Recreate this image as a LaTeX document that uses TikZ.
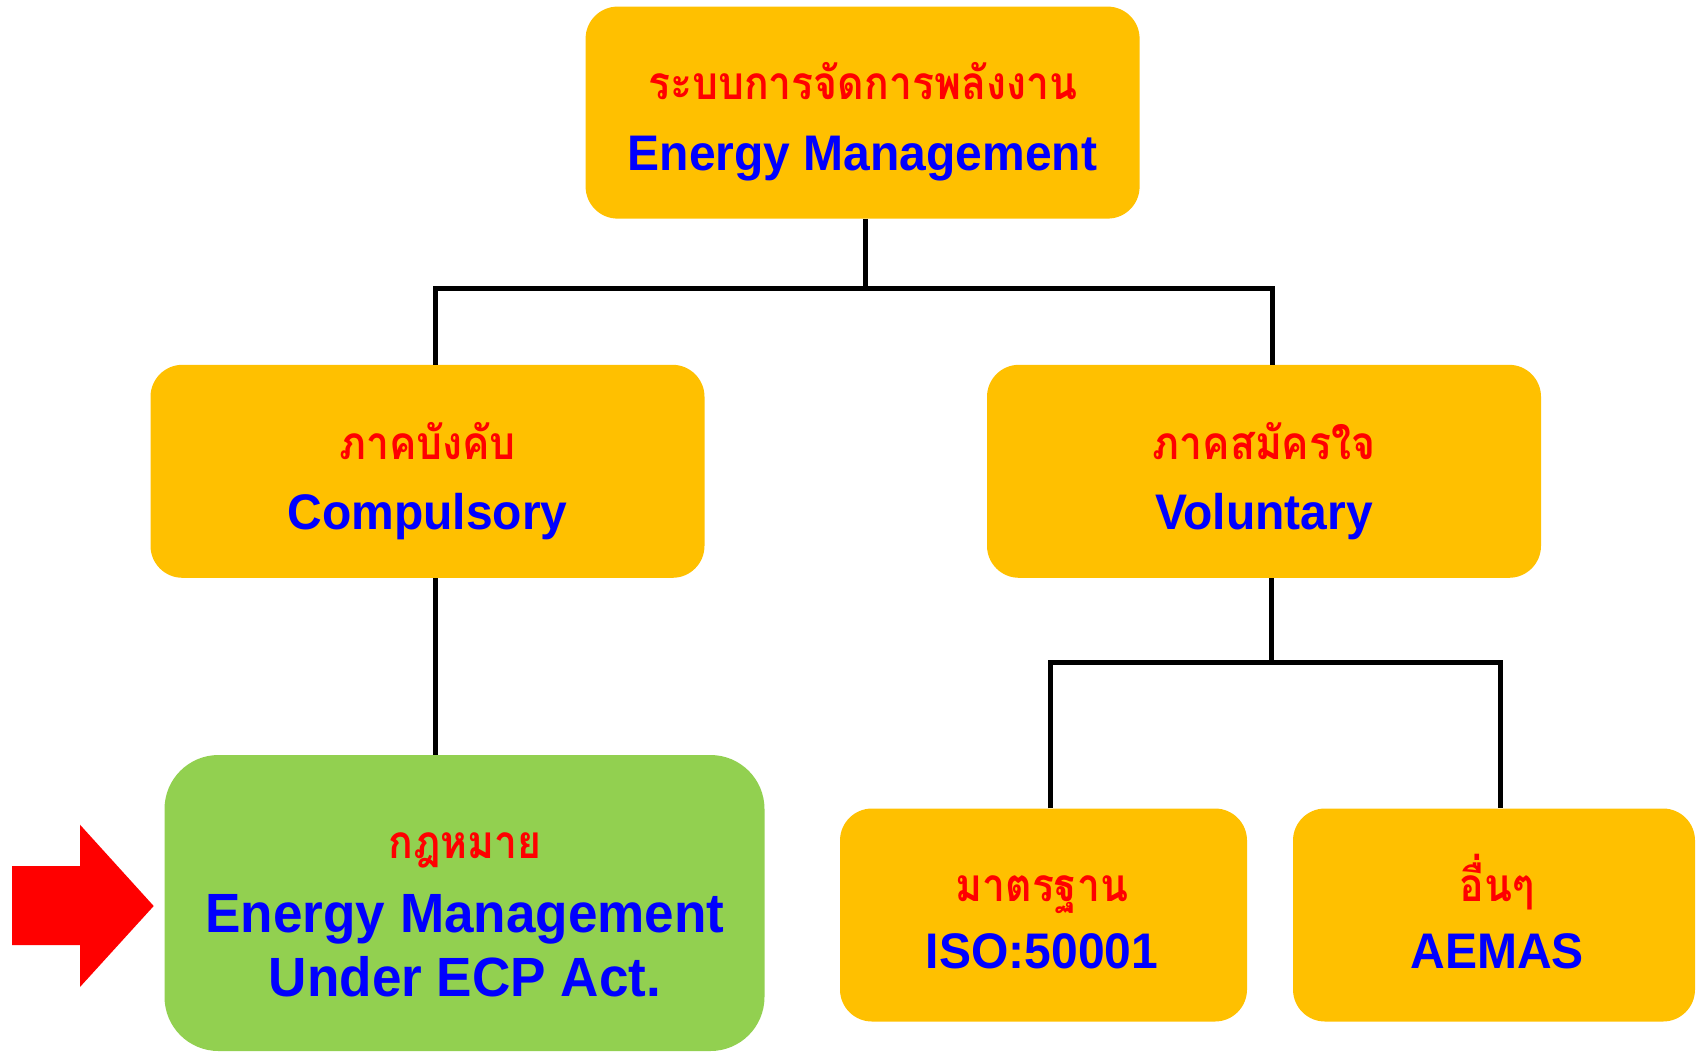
\documentclass[tikz,border=0pt]{standalone}
\usepackage{fontspec}
\newfontfamily\enfont[FakeStretch=0.96]{Liberation Sans}
\newfontfamily\thaifont[Script=Thai, FakeStretch=0.89]{Loma}
\usetikzlibrary{positioning}
\definecolor{boxorange}{HTML}{FFC000}
\definecolor{boxgreen}{HTML}{92D050}
\definecolor{thred}{HTML}{FF0000}
\definecolor{enblue}{HTML}{0000FF}
\tikzset{
  box/.style={rectangle, rounded corners=32pt, fill=boxorange, draw=none, inner sep=0pt},
  lawbox/.style={box, fill=boxgreen, rounded corners=54pt},
  thlabel/.style={text=thred, font=\thaifont\bfseries\fontsize{46}{52}\selectfont, inner sep=0pt, anchor=base},
  enlabel/.style={text=enblue, font=\enfont\bfseries\fontsize{50}{58}\selectfont, inner sep=0pt, anchor=base},
  enbig/.style={enlabel, font=\enfont\bfseries\fontsize{55.3}{62}\selectfont},
  conn/.style={draw=black, line width=5pt},
  bigarrow/.style={fill=thred, draw=none}
}
\begin{document}
\begin{tikzpicture}[x=1pt, y=-1pt]
\useasboundingbox (0,0) rectangle (1697,1053);

% boxes
\node[box, minimum width=554pt, minimum height=212pt] (top) at (862.6,112.6) {};
\node[box, minimum width=554pt, minimum height=213pt] (comp) at (427.5,471.3) {};
\node[box, minimum width=554pt, minimum height=213pt] (vol) at (1264,471.3) {};
\node[lawbox, minimum width=600pt, minimum height=296pt] (law) at (464.5,903) {};
\node[box, minimum width=407pt, minimum height=213pt] (iso) at (1043.5,915) {};
\node[box, minimum width=402pt, minimum height=213pt] (oth) at (1494,915) {};

% tree connectors
\coordinate (cT) at (865,288);
\coordinate (cL) at (435,288);
\coordinate (cR) at (1272,288);
\coordinate (vL) at (1050,662);
\coordinate (vM) at (1271,662);
\coordinate (vR) at (1500,662);
\draw[conn] (cT |- top.south) -- (cT);
\draw[conn] (cL |- comp.north) -- (cL) -- (cR) -- (cR |- vol.north);
\draw[conn] (cL |- comp.south) -- (cL |- law.north);
\draw[conn] (vM |- vol.south) -- (vM);
\draw[conn] (vL |- iso.north) -- (vL) -- (vR) -- (vR |- oth.north);

% labels (placed by baseline)
\node[thlabel] (topth) at (862.6,99) {ระบบการจัดการพลังงาน};
\node[enlabel] (topen) at (862.6,170) {Energy Management};
\node[thlabel] (compth) at (427.5,459) {ภาคบังคับ};
\node[enlabel] (compen) at (427.5,529) {Compulsory};
\node[thlabel] (volth) at (1264,459) {ภาคสมัครใจ};
\node[enlabel] (volen) at (1264,529) {Voluntary};
\node[thlabel] (lawth) at (465,858) {กฎหมาย};
\node[enbig] (lawen1) at (465,932.5) {Energy Management};
\node[enbig] (lawen2) at (465,996) {Under ECP Act.};
\node[thlabel] (isoth) at (1042,901.5) {มาตรฐาน};
\node[enlabel] (isoen) at (1042,968) {ISO:50001};
\node[thlabel] (othth) at (1497,901.5) {อื่นๆ};
\node[enlabel] (othen) at (1497,968) {AEMAS};

% pointer arrow
\coordinate (ptip) at (153.7,906);
\fill[bigarrow] (12,866) -- (80,866) -- (80,824.7) -- (ptip) -- (80,987) -- (80,945) -- (12,945) -- cycle;
\end{tikzpicture}
\end{document}
